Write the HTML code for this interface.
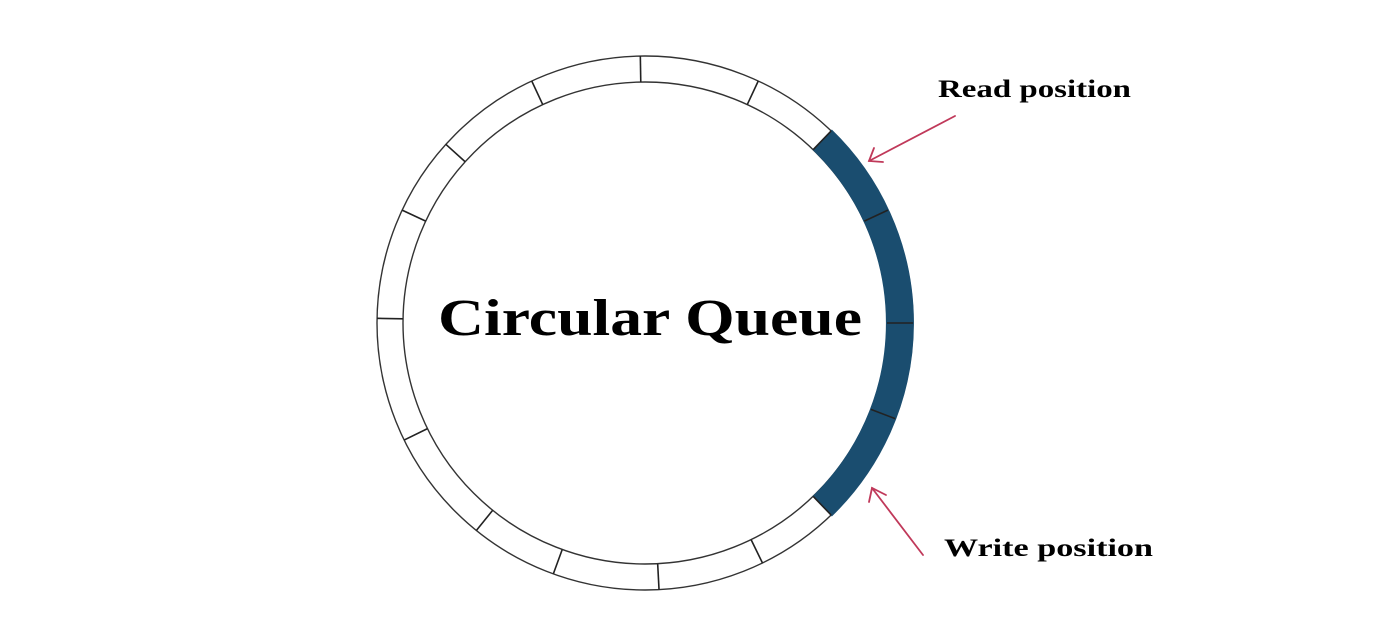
<!DOCTYPE html>
<html><head><meta charset="utf-8"><style>
html,body{margin:0;padding:0;background:#fff;}
svg{display:block;}
</style></head><body>
<svg width="1388" height="630" viewBox="0 0 1388 630" xmlns="http://www.w3.org/2000/svg">
<g fill="none" stroke="#333" stroke-width="1.4">
<ellipse cx="645" cy="323" rx="268" ry="267"/>
<ellipse cx="645" cy="323" rx="242" ry="241"/>
</g>
<path d="M 822.1 139.6 A 255 255 0 0 1 822.1 506.4" fill="none" stroke="#1a4d6f" stroke-width="28"/>
<g stroke="#222" stroke-width="1.6" id="ticks">
</g>
<text x="650" y="335" text-anchor="middle" font-family="Liberation Serif, serif" font-weight="bold" font-size="52" textLength="424" lengthAdjust="spacingAndGlyphs">Circular Queue</text>
<text x="938" y="97" font-family="Liberation Serif, serif" font-weight="bold" font-size="25" textLength="193" lengthAdjust="spacingAndGlyphs">Read position</text>
<text x="944" y="556" font-family="Liberation Serif, serif" font-weight="bold" font-size="25" textLength="209" lengthAdjust="spacingAndGlyphs">Write position</text>
<g stroke="#c0395a" stroke-width="1.8" fill="none" stroke-linecap="round">
<line x1="955" y1="116" x2="869" y2="161"/>
<polyline points="874,148 869,161 883,162"/>
<line x1="923" y1="555" x2="872" y2="488"/>
<polyline points="869,502 872,488 886,495"/>
</g>
<script>
var a=[-25,0,21,46,64,87,110,129,154,181,-155,-138,-115,-91,-65,-46];
var g=document.getElementById('ticks');
a.forEach(function(d){var r=d*Math.PI/180,c=Math.cos(r),s=Math.sin(r);
var l=document.createElementNS('http://www.w3.org/2000/svg','line');
l.setAttribute('x1',645+242*c);l.setAttribute('y1',323+241*s);
l.setAttribute('x2',645+268*c);l.setAttribute('y2',323+267*s);g.appendChild(l);});
</script>
</svg>
</body></html>
